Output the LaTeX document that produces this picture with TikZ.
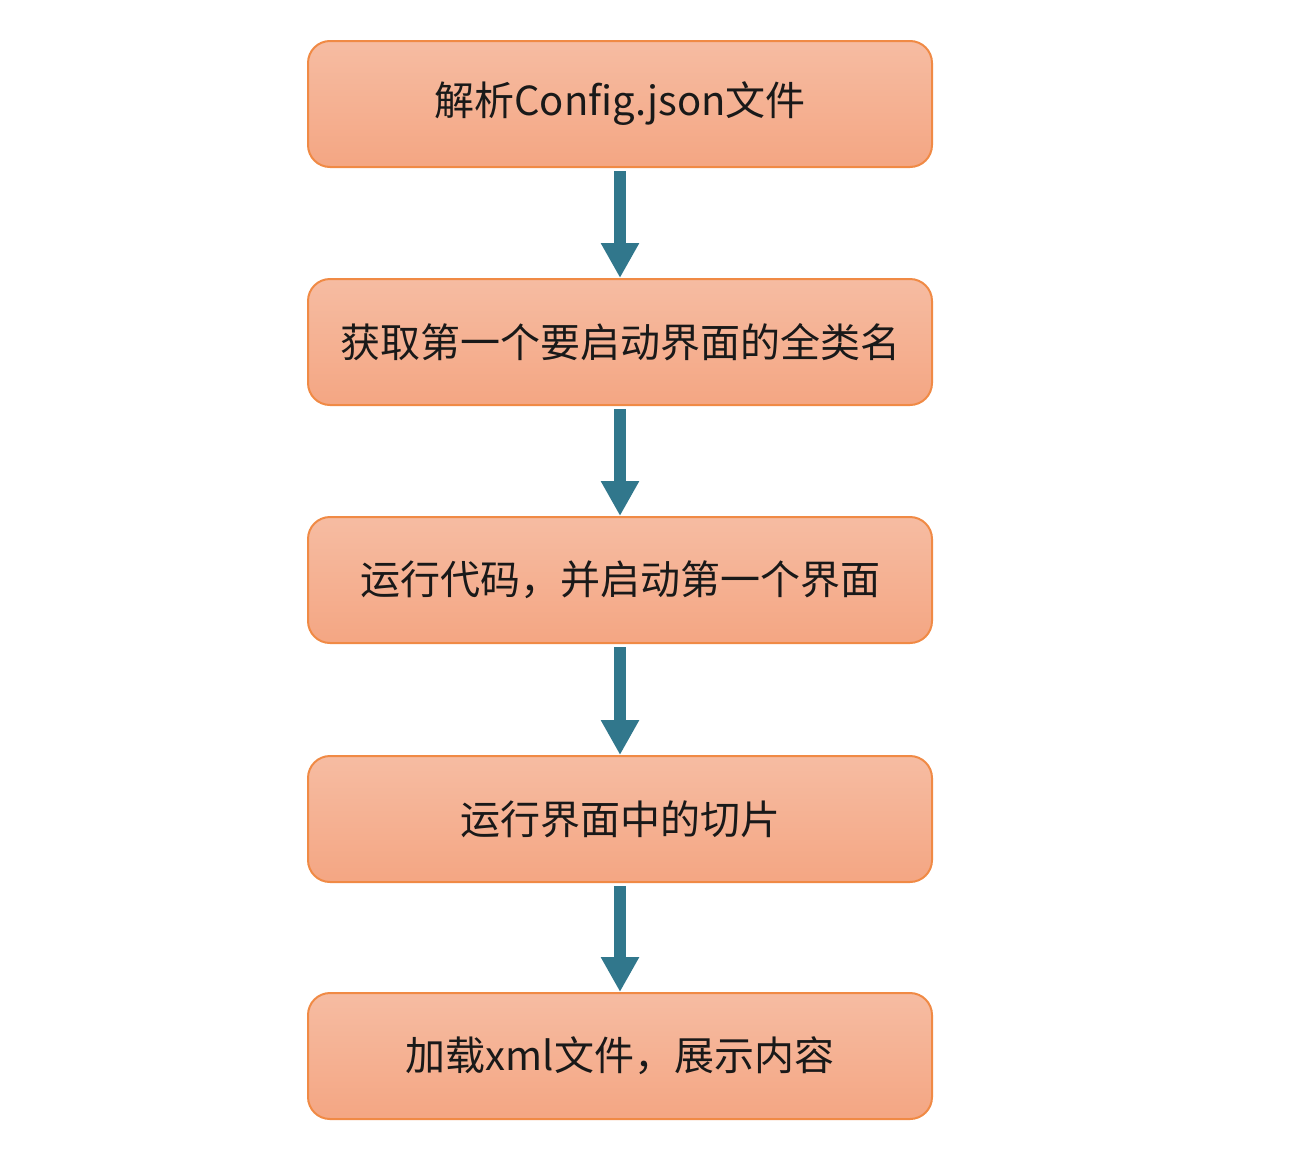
\documentclass[tikz,border=0pt]{standalone}
\usepackage{fontspec}
\newfontfamily\cjk{Noto Sans CJK SC}
\usetikzlibrary{arrows.meta}
\definecolor{boxtop}{HTML}{F6BCA2}
\definecolor{boxbot}{HTML}{F4A683}
\definecolor{boxline}{HTML}{F08A45}
\definecolor{teal}{HTML}{31778C}

\begin{document}
\begin{tikzpicture}[x=.5pt,y=-.5pt,
  stepbox/.style={draw=boxline,line width=1pt,rounded corners=11pt,top color=boxtop,bottom color=boxbot,
    minimum width=312pt,minimum height=63pt,font=\cjk\fontsize{20}{24}\selectfont,text=black!90},
  flow/.style={teal,line width=6pt,-{Triangle[width=18pt,length=17.5pt]},shorten <=1.5pt}]
\useasboundingbox (0,0) rectangle (1293,1167);
\node[stepbox] (parse) at (620,104){解析Config.json文件};
\node[stepbox] (cls) at (620,342){获取第一个要启动界面的全类名};
\node[stepbox] (run) at (620,580){运行代码，并启动第一个界面};
\node[stepbox] (slice) at (620,819){运行界面中的切片};
\node[stepbox] (load) at (620,1056){加载xml文件，展示内容};
\draw[flow] (parse)--(cls);\draw[flow] (cls)--(run);
\draw[flow] (run)--(slice);\draw[flow] (slice)--(load);
\end{tikzpicture}
\end{document}
